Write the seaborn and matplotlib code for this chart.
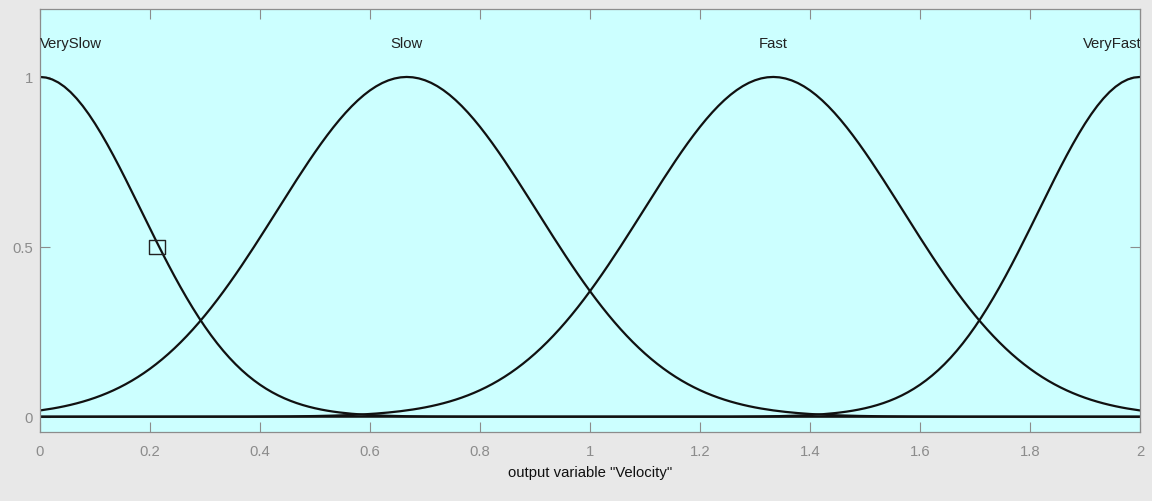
import numpy as np
import pandas as pd
import matplotlib
matplotlib.use("Agg")
import matplotlib.pyplot as plt
import matplotlib.transforms as mtransforms
import seaborn as sns
from matplotlib.path import Path

# Gaussian membership functions of the output variable "Velocity"
mf_names = ["VerySlow", "Slow", "Fast", "VeryFast"]
mf_centers = [0.0, 0.667, 1.333, 2.0]
mf_sigmas = [0.184, 0.236, 0.236, 0.184]
var_range = [0.0, 2.0]
n_samples = 181

x_ticks = [0, 0.2, 0.4, 0.6, 0.8, 1.0, 1.2, 1.4, 1.6, 1.8, 2.0]
x_tick_labels = ["0", "0.2", "0.4", "0.6", "0.8", "1", "1.2", "1.4", "1.6", "1.8", "2"]
y_ticks = [0, 0.5, 1]
y_tick_labels = ["0", "0.5", "1"]

# selection cursor on the VerySlow curve
cursor_x = [0.213]
cursor_y = [0.5]

label_y = 1.1

# evaluate each MF over the variable range
xs = np.linspace(var_range[0], var_range[1], n_samples)
frames = []
for name, c, s in zip(mf_names, mf_centers, mf_sigmas):
    frames.append(pd.DataFrame({"x": xs,
                                "mu": np.exp(-(xs - c) ** 2 / (2 * s ** 2)),
                                "mf": name}))
df = pd.concat(frames, ignore_index=True)

sns.set_theme(style="white")
plt.rcParams["font.family"] = ["Liberation Sans", "DejaVu Sans"]

fs = 10.7
fig = plt.figure(figsize=(11.52, 5.02), dpi=100, facecolor="#e8e8e8")
ax = fig.add_axes([40 / 1152, 1 - 433 / 502, 1100 / 1152, 423 / 502])
ax.set_facecolor("#ccffff")

sns.lineplot(data=df, x="x", y="mu", hue="mf", hue_order=mf_names,
             palette={n: "#111111" for n in mf_names}, estimator=None,
             sort=False, legend=False, linewidth=1.6, ax=ax)

ax.set_xlim(var_range)
ax.set_ylim(-0.045, 1.2)

for i, (name, c) in enumerate(zip(mf_names, mf_centers)):
    trans = ax.transData
    if i == 0:
        ha = "left"
    elif i == len(mf_names) - 1:
        ha = "right"
        # the last name runs slightly past the right edge and gets clipped
        trans = mtransforms.offset_copy(ax.transData, fig=fig, x=2, y=0,
                                        units="dots")
    else:
        ha = "center"
    ax.text(c, label_y, name, ha=ha, va="center", fontsize=fs,
            color="#222222", clip_on=True, transform=trans)

rect = Path([(-1.3, -1), (1.3, -1), (1.3, 1), (-1.3, 1), (-1.3, -1)],
            [Path.MOVETO, Path.LINETO, Path.LINETO, Path.LINETO, Path.CLOSEPOLY])
ax.plot(cursor_x, cursor_y, linestyle="none", marker=rect, markersize=12.2,
        markerfacecolor="none", markeredgecolor="#222222", markeredgewidth=1.0)

grey = "#8c8c8c"
ax.set_xticks(x_ticks)
ax.set_xticklabels(x_tick_labels)
ax.set_yticks(y_ticks)
ax.set_yticklabels(y_tick_labels)
ax.tick_params(axis="both", direction="in", length=7, width=0.8, color=grey,
               labelcolor=grey, labelsize=fs, top=True, right=True,
               bottom=True, left=True)
ax.tick_params(axis="x", pad=9)
ax.tick_params(axis="y", pad=5)
for sp in ax.spines.values():
    sp.set_color(grey)
    sp.set_linewidth(0.9)

ax.set_xlabel('output variable "Velocity"', fontsize=fs, color="#111111",
              labelpad=5)
ax.set_ylabel("")

fig.savefig("out.png", dpi=100, facecolor=fig.get_facecolor())
